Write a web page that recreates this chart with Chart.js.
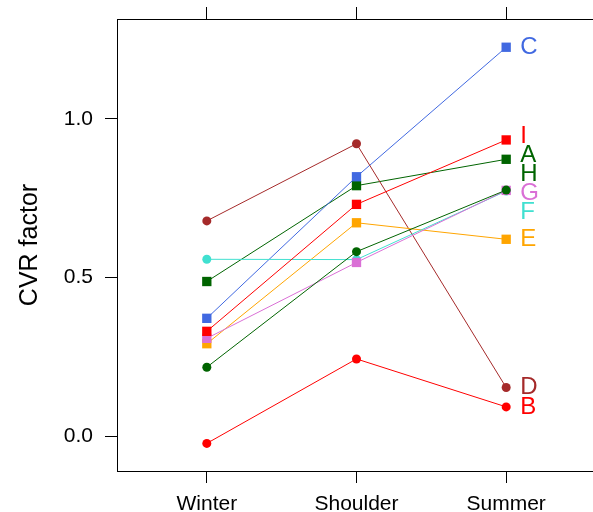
<!DOCTYPE html>
<html>
<head>
<meta charset="utf-8">
<script src="https://cdn.jsdelivr.net/npm/chart.js@4/dist/chart.umd.min.js"></script>
<style>
  body { margin: 0; background: #fff; overflow: hidden; }
  canvas { display: block; }
</style>
</head>
<body>
<canvas id="cvrChart" width="593" height="512"></canvas>
<script>
// categories and tick labels
const seasons = ['Winter', 'Shoulder', 'Summer'];
const yTicks = [0.0, 0.5, 1.0];
const groups = ['A', 'B', 'C', 'D', 'E', 'F', 'G', 'H', 'I'];

// CVR factor per group (Winter, Shoulder, Summer)
const A = [0.488, 0.790, 0.873];
const B = [-0.022, 0.244, 0.093];
const C = [0.372, 0.818, 1.226];
const D = [0.679, 0.922, 0.154];
const E = [0.292, 0.673, 0.621];
const F = [0.558, 0.557, 0.773];
const G = [0.309, 0.548, 0.775];
const H = [0.218, 0.582, 0.776];
const I = [0.331, 0.731, 0.934];
const values = [A, B, C, D, E, F, G, H, I];

const colors = ['#006400', '#FF0000', '#4169E1', '#A52A2A', '#FFA500',
                '#40E0D0', '#DA70D6', '#006400', '#FF0000'];
const shapes = ['rect', 'circle', 'rect', 'circle', 'rect',
                'circle', 'rect', 'circle', 'rect'];

const FONT = '"Liberation Sans", Arial, sans-serif';

const datasets = groups.map((g, i) => ({
    label: g,
    data: values[i].map((v, j) => ({ x: j, y: v })),
    borderColor: colors[i],
    backgroundColor: colors[i],
    pointBackgroundColor: colors[i],
    pointBorderWidth: 0,
    pointStyle: shapes[i],
    pointRadius: shapes[i] === 'rect' ? 6.6 : 4.5,
    borderWidth: 1,
    tension: 0,
    clip: false,
    order: groups.length - i   // draw A first, I last
}));

// group letters at the end of each line, pushed apart when they collide
const endLabels = {
    id: 'endLabels',
    afterDatasetsDraw(chart) {
        const { ctx, scales } = chart;
        const gap = 19;
        const last = seasons.length - 1;
        let items = groups.map((g, i) => ({
            text: g, color: colors[i],
            y0: scales.y.getPixelForValue(values[i][last])
        })).sort((a, b) => a.y0 - b.y0);

        let clusters = items.map(it => ({ members: [it], pos: [it.y0] }));
        let moved = true;
        while (moved) {
            moved = false;
            for (let k = 0; k < clusters.length - 1; k++) {
                const up = clusters[k], lo = clusters[k + 1];
                if (up.pos[up.pos.length - 1] + gap > lo.pos[0]) {
                    const members = up.members.concat(lo.members);
                    const mean = members.reduce((s, m) => s + m.y0, 0) / members.length;
                    const n = members.length;
                    clusters.splice(k, 2, {
                        members,
                        pos: members.map((m, q) => mean + (q - (n - 1) / 2) * gap)
                    });
                    moved = true;
                    break;
                }
            }
        }

        const x = scales.x.getPixelForValue(last) + 14;
        ctx.save();
        ctx.font = '24px ' + FONT;
        ctx.textAlign = 'left';
        ctx.textBaseline = 'middle';
        clusters.forEach(c => c.members.forEach((m, q) => {
            ctx.fillStyle = m.color;
            ctx.fillText(m.text, x, c.pos[q]);
        }));
        ctx.restore();
    }
};

const seasonTicks = scale => { scale.ticks = seasons.map((s, j) => ({ value: j })); };
const noPad = s => { s.paddingTop = s.paddingBottom = s.paddingLeft = s.paddingRight = 0; };

new Chart(document.getElementById('cvrChart'), {
    type: 'line',
    data: { datasets },
    plugins: [endLabels],
    options: {
        responsive: false,
        animation: false,
        layout: { padding: 0, autoPadding: false },
        plugins: { legend: { display: false }, tooltip: { enabled: false } },
        scales: {
            x: {
                type: 'linear',
                position: 'bottom',
                min: -0.6,
                max: 2.58,
                afterBuildTicks: seasonTicks,
                afterFit: s => { s.height = 41; noPad(s); },
                grid: { drawOnChartArea: false, tickLength: 12, color: '#000' },
                border: { display: true, color: '#000', width: 1 },
                ticks: {
                    padding: 9,
                    color: '#000',
                    font: { family: FONT, size: 21 },
                    maxRotation: 0,
                    callback: v => seasons[v]
                }
            },
            x2: {
                type: 'linear',
                position: 'top',
                min: -0.6,
                max: 2.58,
                afterBuildTicks: seasonTicks,
                afterFit: s => { s.height = 19; noPad(s); },
                grid: { drawOnChartArea: false, tickLength: 12, color: '#000' },
                border: { display: true, color: '#000', width: 1 },
                ticks: { display: false }
            },
            y: {
                type: 'linear',
                position: 'left',
                min: -0.109,
                max: 1.315,
                afterBuildTicks: s => { s.ticks = yTicks.map(v => ({ value: v })); },
                afterFit: s => { s.width = 117; noPad(s); },
                grid: { drawOnChartArea: false, tickLength: 12, color: '#000' },
                border: { display: true, color: '#000', width: 1 },
                ticks: {
                    padding: 12,
                    color: '#000',
                    font: { family: FONT, size: 21 },
                    callback: v => v.toFixed(1)
                },
                title: {
                    display: true,
                    text: 'CVR factor',
                    color: '#000',
                    font: { family: FONT, size: 25 },
                    padding: { top: 15, bottom: 0 }
                }
            }
        }
    }
});
</script>
</body>
</html>
